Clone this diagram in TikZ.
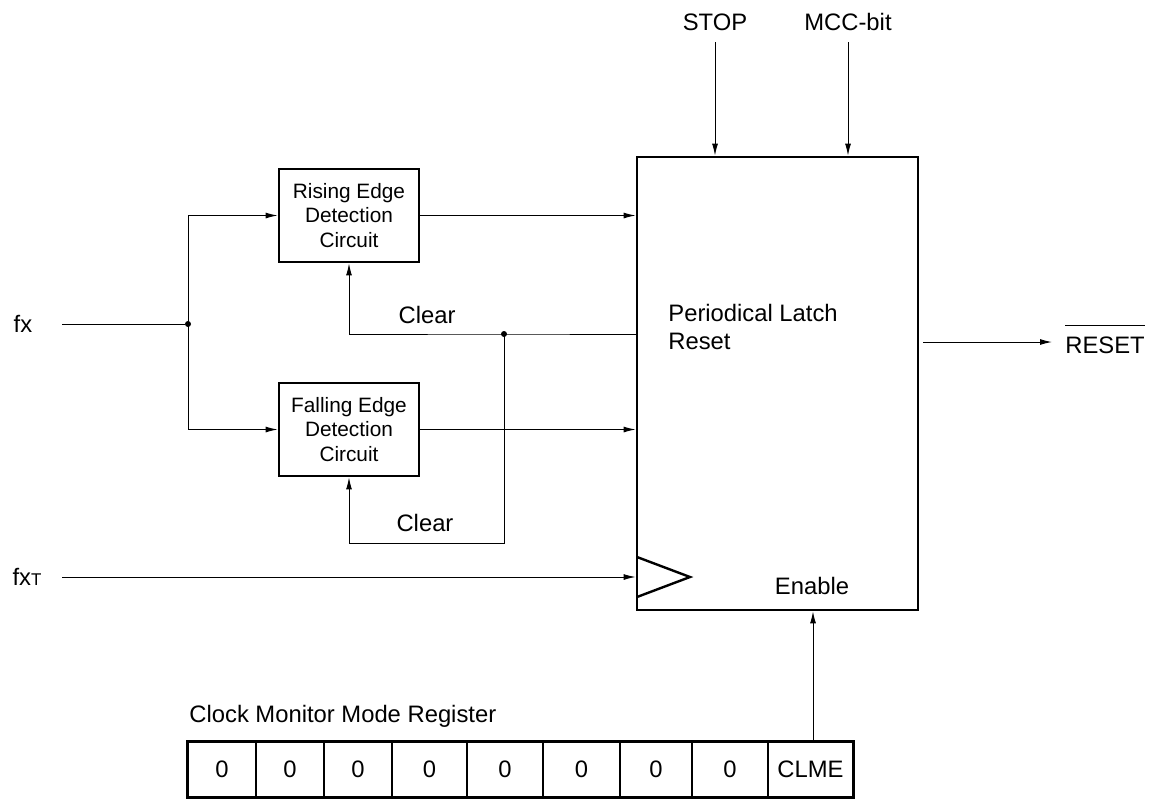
\documentclass[tikz,border=0pt]{standalone}
\usepackage{fontspec}
\setmainfont{Liberation Sans}
\usetikzlibrary{arrows.meta,positioning}
\begin{document}
\begin{tikzpicture}[x=0.5pt,y=-0.5pt,
  lbl/.style={font=\fontsize{11.9}{14}\selectfont, inner sep=0pt},
  detbox/.style={draw, line width=1.4pt, minimum width=70pt, minimum height=46.5pt, align=center, inner sep=0pt, font=\fontsize{10.4}{12.2}\selectfont},
  wire/.style={line width=0.5pt},
  arr/.style={wire, -{Latex[length=6pt,width=3pt]}},
  dot/.style={circle, fill, inner sep=0pt, minimum size=3pt},
  cell/.style={draw, line width=0.6pt, minimum height=27.5pt, inner sep=0pt, font=\fontsize{11.9}{13}\selectfont}
]
\useasboundingbox (0,0) rectangle (1152,799);

% main block
\node[draw, line width=1.4pt, minimum width=140.5pt, minimum height=226.5pt, inner sep=0pt] (big) at (777.5,383.5) {};
\node[lbl, anchor=west, align=left, font=\fontsize{11.9}{14}\selectfont] (plr) at (668,327) {Periodical Latch\\Reset};
\node[lbl] (en) at (812,586) {Enable};
\coordinate (trtop) at (637,557);
\coordinate (trtip) at (690,577);
\coordinate (trbot) at (637,597);
\draw[line width=1.2pt] (trtop) -- (trtip) -- (trbot);

% detection boxes
\node[detbox] (rise) at (349,215.5) {Rising Edge\\Detection\\Circuit};
\node[detbox] (fall) at (349,429.5) {Falling Edge\\Detection\\Circuit};

% fx input
\node[lbl] (fx) at (23,324) {fx};
\coordinate (fxs) at (62,324);
\node[dot] (j1) at (188,324) {};
\draw[wire] (fxs) -- (j1);
\draw[arr] (j1.center) |- (rise.west);
\draw[arr] (j1.center) |- (fall.west);

% outputs to main block
\draw[arr] (rise.east) -- (rise.east -| big.west);
\draw[arr] (fall.east) -- (fall.east -| big.west);

% clear lines
\coordinate (c1) at (637,334);
\node[dot] (j2) at (504,334) {};
\coordinate (c2) at (504,543);
\draw[arr] (c1) -- (j2.center) -| (rise.south);
\draw[arr] (j2.center) -- (c2) -| (fall.south);
\node[lbl] (clr1) at (427,315) {Clear};
\node[lbl] (clr2) at (425,523) {Clear};

% fxT input
\node[lbl] (fxt) at (27,577) {fx{\fontsize{8.5}{9}\selectfont T}};
\coordinate (fxts) at (62,577);
\draw[arr] (fxts) -- (fxts -| big.west);

% top inputs
\node[lbl] (stop) at (715,22) {STOP};
\node[lbl] (mcc) at (848,22) {MCC-bit};
\coordinate (stops) at (715,42);
\coordinate (mccs) at (848,42);
\draw[arr] (stops) -- (stops |- big.north);
\draw[arr] (mccs) -- (mccs |- big.north);

% RESET output
\coordinate (rs) at (923,342);
\coordinate (re) at (1052,342);
\draw[arr] (rs) -- (re);
\node[lbl, anchor=base west] (reset) at (1065,353) {$\overline{\hbox{\rule{0pt}{12.3pt}RESET}}$};

% register
\node[lbl, anchor=west] (regl) at (189,716) {Clock Monitor Mode Register};
\node[cell, minimum width=34pt] (b0) at (222,769.5) {0};
\node[cell, minimum width=34pt] (b1) at (290,769.5) {0};
\node[cell, minimum width=34pt] (b2) at (358,769.5) {0};
\node[cell, minimum width=37.5pt] (b3) at (429.5,769.5) {0};
\node[cell, minimum width=38pt] (b4) at (505,769.5) {0};
\node[cell, minimum width=38.5pt] (b5) at (581.5,769.5) {0};
\node[cell, minimum width=36pt] (b6) at (656,769.5) {0};
\node[cell, minimum width=38pt] (b7) at (730,769.5) {0};
\node[cell, minimum width=42.5pt] (clme) at (810.5,769.5) {CLME};
\draw[line width=1.1pt] (b0.north west) rectangle (clme.south east);
\coordinate (ens) at (813,742);
\draw[arr] (ens) -- (ens |- big.south);
\end{tikzpicture}
\end{document}
